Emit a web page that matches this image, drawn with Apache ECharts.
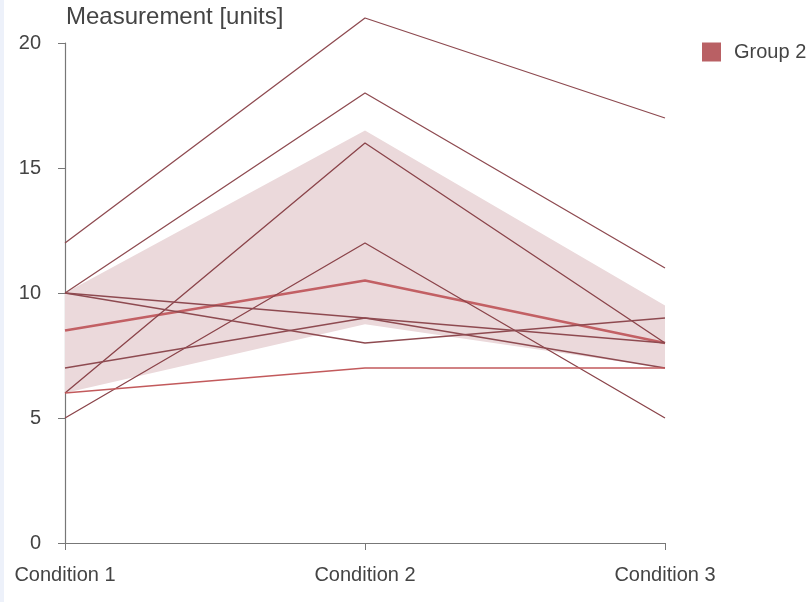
<!DOCTYPE html>
<html>
<head>
<meta charset="utf-8">
<script src="https://cdn.jsdelivr.net/npm/echarts@6/dist/echarts.min.js"></script>
<style>
html,body{margin:0;padding:0;background:#fff;}
#strip{position:absolute;left:0;top:0;width:4px;height:602px;background:#edf1fa;}
#chart{position:absolute;left:0;top:0;width:809px;height:602px;}
</style>
</head>
<body>
<div id="chart"></div>
<div id="strip"></div>
<script>
const categories = ['Condition 1', 'Condition 2', 'Condition 3'];
const subjects = [
  [12, 21, 17],
  [10, 18, 11],
  [6, 16, 8],
  [5, 12, 5],
  [10, 8, 9],
  [10, 9, 8],
  [7, 9, 7],
  [6, 7, 7]
];
const subjectColors = ['#8e4a50','#8e4a50','#8a4349','#8a4349','#8e4a50','#8e4a50','#8e4a50','#c25a5c'];
const median = [8.5, 10.5, 8];
const bandLower = [6, 8.75, 7];
const bandUpper = [10, 16.5, 9.5];
const yTicks = [0, 5, 10, 15, 20];

const chart = echarts.init(document.getElementById('chart'));
const font = 'Liberation Sans, Arial, sans-serif';
const series = [];
series.push({
  type: 'line', stack: 'band', data: bandLower, symbol: 'none', silent: true, clip: false,
  lineStyle: { opacity: 0 }, z: 1
});
series.push({
  type: 'line', stack: 'band', data: bandUpper.map((v, i) => v - bandLower[i]), symbol: 'none', silent: true, clip: false,
  lineStyle: { opacity: 0 }, areaStyle: { color: '#ebd9db', opacity: 1 }, z: 1
});
series.push({
  name: 'Group 2', type: 'line', data: median, symbol: 'none', clip: false,
  lineStyle: { color: 'rgba(190,82,86,0.9)', width: 2.6 }, z: 2
});
subjects.forEach((s, i) => {
  series.push({
    type: 'line', data: s, symbol: 'none', silent: true, clip: false,
    lineStyle: { color: subjectColors[i], width: 1.3 }, z: 3
  });
});

chart.setOption({
  animation: false,
  backgroundColor: 'transparent',
  grid: { left: 65, right: 144, top: 43, bottom: 59, containLabel: false },
  legend: {
    left: 697, top: 37,
    itemWidth: 19, itemHeight: 19, icon: 'rect',
    textStyle: { fontFamily: font, fontSize: 20, color: '#444', padding: [0, 0, 0, 8] },
    data: [{ name: 'Group 2', icon: 'rect', itemStyle: { color: '#b96064' } }]
  },
  xAxis: {
    type: 'category', data: categories, boundaryGap: false,
    axisLine: { lineStyle: { color: '#777', width: 1.2 } },
    axisTick: { show: true, length: 7, alignWithLabel: true, lineStyle: { color: '#777' } },
    axisLabel: { fontFamily: font, fontSize: 20, color: '#444', margin: 22 },
    splitLine: { show: false }
  },
  yAxis: {
    type: 'value', min: yTicks[0], max: yTicks[yTicks.length - 1], interval: 5,
    name: 'Measurement [units]', nameLocation: 'end', nameGap: 14,
    nameTextStyle: { fontFamily: font, fontSize: 24, color: '#444', align: 'left', padding: [0, 0, 0, 1] },
    axisLine: { show: true, lineStyle: { color: '#777', width: 1.2 } },
    axisTick: { show: true, length: 7, lineStyle: { color: '#777' } },
    axisLabel: { fontFamily: font, fontSize: 20, color: '#444', margin: 24 },
    splitLine: { show: false }
  },
  series: series
});
</script>
</body>
</html>
